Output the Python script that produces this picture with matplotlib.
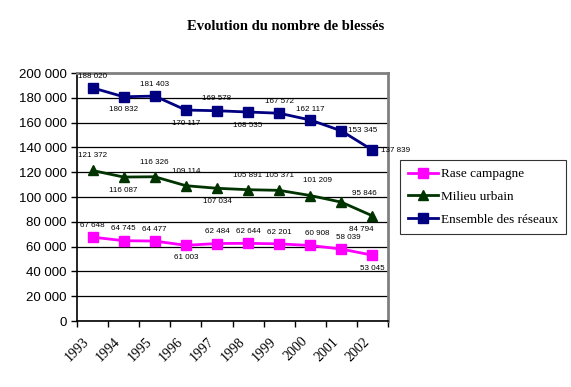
import matplotlib
matplotlib.use("Agg")
import matplotlib.pyplot as plt
import matplotlib.transforms as mtransforms
from matplotlib.ticker import FuncFormatter, MultipleLocator

years = ["1993", "1994", "1995", "1996", "1997", "1998", "1999", "2000", "2001", "2002"]
rase = [67648, 64745, 64477, 61003, 62484, 62644, 62201, 60908, 58039, 53045]
urbain = [121372, 116087, 116326, 109114, 107034, 105891, 105371, 101209, 95846, 84794]
ensemble = [188020, 180832, 181403, 170117, 169578, 168535, 167572, 162117, 153345, 137839]

# label placement: (dx points, dy points, ha)
rase_pos = [(0, 6, 'center'), (0, 6, 'center'), (0, 6, 'center'), (0, -11, 'center'), (0, 6, 'center'),
            (0, 6, 'center'), (0, 6, 'center'), (5, 6, 'center'), (5, 6, 'center'), (0, -12, 'center')]
urb_pos = [(0, 8, 'center'), (0, -12, 'center'), (0, 8, 'center'), (0, 8, 'center'), (0, -12, 'center'),
           (0, 8, 'center'), (0, 8, 'center'), (5, 8, 'center'), (8, 4, 'left'), (-8, -12, 'center')]
ens_pos = [(0, 6, 'center'), (0, -12, 'center'), (0, 6, 'center'), (0, -12, 'center'), (0, 6, 'center'),
           (0, -12, 'center'), (0, 6, 'center'), (0, 5, 'center'), (5, -2, 'left'), (6, -3, 'left')]

fig = plt.figure(figsize=(5.71, 3.87), dpi=100)
ax = fig.add_axes([77/571, 1-321/387, (388-77)/571, (321-73)/387])

x = list(range(len(years)))
c_rase = "#FF00FF"
c_urb = "#003300"
c_ens = "#000080"

ax.plot(x, rase, color=c_rase, marker='s', ms=6.5, lw=2, label="Rase campagne", zorder=3)
ax.plot(x, urbain, color=c_urb, marker='^', ms=7, lw=2, label="Milieu urbain", zorder=3)
ax.plot(x, ensemble, color=c_ens, marker='s', ms=7, lw=2, label="Ensemble des réseaux", zorder=3)

def fmt(v):
    return f"{v:,}".replace(",", " ")

for series, pos in ((rase, rase_pos), (urbain, urb_pos), (ensemble, ens_pos)):
    for xi, v, (dx, dy, ha) in zip(x, series, pos):
        ax.annotate(fmt(v), (xi, v), xytext=(dx, dy), textcoords='offset points',
                    ha=ha, va='bottom', fontsize=5.8, family='Liberation Sans')

ax.set_xlim(-0.5, len(years) - 0.5)
ax.set_ylim(0, 200000)
ax.yaxis.set_major_locator(MultipleLocator(20000))
ax.yaxis.set_major_formatter(FuncFormatter(lambda v, p: fmt(int(v))))
ax.grid(axis='y', color='black', lw=0.9)
ax.set_axisbelow(True)

ax.set_xticks([i - 0.5 for i in range(len(years) + 1)], minor=True)
ax.set_xticks(x)
ax.set_xticklabels(years, rotation=45, ha='right', rotation_mode='anchor',
                   fontsize=10, family='Liberation Serif')
ax.tick_params(axis='x', which='major', length=0, pad=10)
ax.tick_params(axis='x', which='minor', length=4, width=1, color='black')
offset = mtransforms.ScaledTranslation(-7/72, 0, fig.dpi_scale_trans)
for lbl in ax.get_xticklabels():
    lbl.set_transform(lbl.get_transform() + offset)
ax.tick_params(axis='y', length=4, width=1, labelsize=9.5)
for lbl in ax.get_yticklabels():
    lbl.set_family('Liberation Sans')

for s in ('top', 'right'):
    ax.spines[s].set_color('#808080')
    ax.spines[s].set_linewidth(2)
for s in ('left', 'bottom'):
    ax.spines[s].set_color('black')
    ax.spines[s].set_linewidth(1.2)

fig.text(286/571, 1-27/387, "Evolution du nombre de blessés", ha='center', va='center',
         fontsize=10.5, fontweight='bold', family='Liberation Serif')

leg = fig.legend(loc='upper left', bbox_to_anchor=(400/571, 1-160/387), frameon=True,
                 fancybox=False, edgecolor='black', prop={'family': 'Liberation Serif', 'size': 9.5},
                 handlelength=2.3, borderpad=0.6, labelspacing=0.8, handletextpad=0.2,
                 borderaxespad=0)
leg.get_frame().set_linewidth(0.8)

fig.savefig("out.png", dpi=100)
